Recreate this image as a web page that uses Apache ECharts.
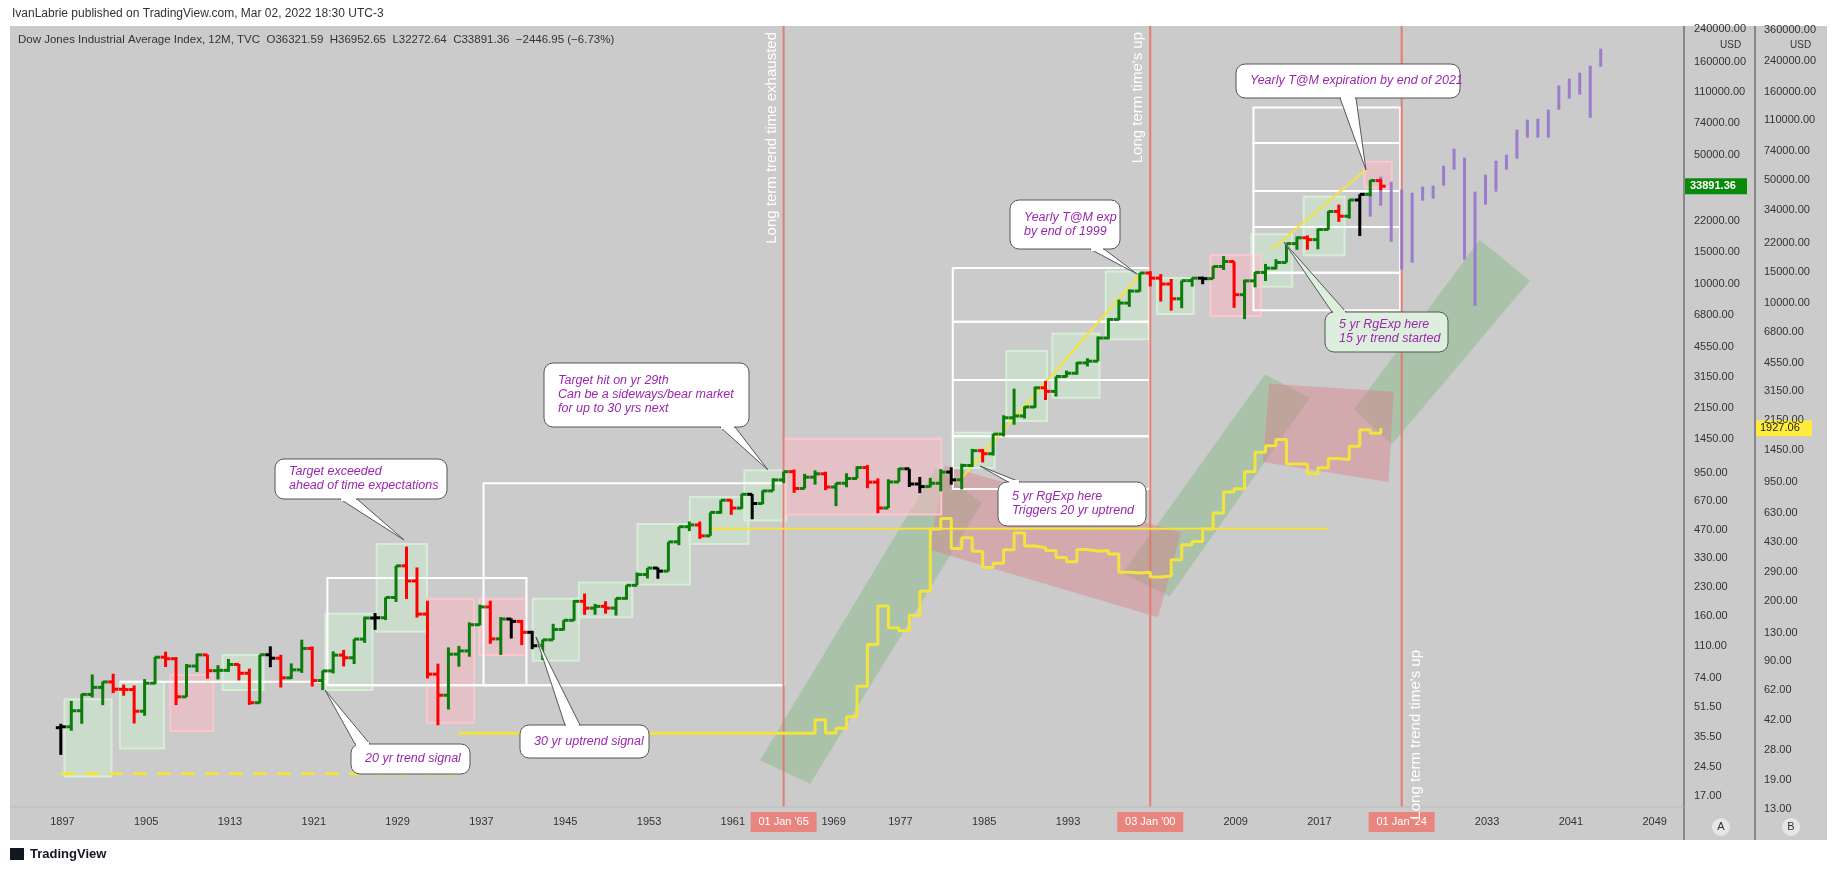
<!DOCTYPE html>
<html><head><meta charset="utf-8">
<script src="https://cdn.jsdelivr.net/npm/echarts@6/dist/echarts.min.js"></script>
<style>
html,body{margin:0;padding:0;background:#fff;width:1834px;height:876px;overflow:hidden;font-family:"Liberation Sans","DejaVu Sans",sans-serif}
#bg{position:absolute;left:10px;top:26px;width:1817px;height:814px;background:#cbcbcb}
#c{position:absolute;left:0;top:0;width:1834px;height:876px}
</style></head><body>
<div id="bg"></div><div id="c"></div>
<script>
// ---------------- DATA ----------------
const startYear = 1896;
const opens = [40.0,40.45,49.41,60.52,66.08,70.71,64.56,64.29,49.11,69.61,96.2,94.35,58.75,86.15,99.05,81.36,81.68,87.87,78.78,54.58,99.15,95,74.38,82.2,107.23,71.95,81.1,98.73,95.52,120.51,156.66,157.2,202.4,300,248.48,164.58,77.9,59.93,99.9,104.04,144.13,179.9,120.85,154.76,150.24,131.13,110.96,119.4,135.89,152.32,192.91,177.2,181.16,177.3,200.13,235.41,269.23,291.9,280.9,404.39,488.4,499.47,435.69,583.65,679.36,615.89,731.14,652.1,762.95,874.13,969.26,785.69,905.11,943.75,800.36,838.92,890.2,1020.02,850.86,616.24,852.41,1004.65,831.17,805.01,838.74,963.99,875,1046.54,1258.64,1211.57,1546.67,1895.95,1938.83,2168.57,2753.2,2633.66,3168.83,3301.11,3754.09,3834.44,5117.12,6448.27,7908.25,9181.43,11497,10787,10021.5,8341.63,10454,10783,10717,12463,13265,8776,10428,11577,12218,13104,16577,17823,17425,19762,24719,23327,28538,30606,36321.59];
const highs = [42,55.8,60.97,77.6,71,78.26,68.44,67.7,73.23,96.56,103,96.37,88.38,100.53,99.3,87.06,94.15,88.57,83.43,99.21,110.15,99.18,89.07,119.62,109.88,81.5,103.43,105.38,120.51,159.39,166.64,202.4,300,381.17,294.07,194.36,88.78,108.67,110.74,148.44,184.9,194.4,158.41,155.92,152.8,133.59,119.71,145.82,152.53,195.82,212.5,186.85,193.16,200.52,235.47,276.37,292,293.79,404.39,488.4,521.05,520.77,583.65,679.36,685.47,734.91,734.5,767.21,891.71,969.26,995.15,943.08,985.21,968.85,842,950.82,1036.27,1051.7,891.66,881.81,1014.79,1004.65,907.74,897.61,1000.17,1024.05,1070.55,1287.2,1286.64,1553.1,1955.57,2722.42,2183.5,2791.41,2999.75,3168.83,3413.21,3794.33,3978.36,5216.47,6560.91,8259.31,9374.27,11497.12,11750,11337,10673,10462,10868,10984,12529,14198,13279,10580,11625,12876,13661,16588,18103,18351,19987,24876,26951,28702,30637,36572,36952.65];
const lows = [28.5,38.5,42,58.3,52.96,61.52,59.57,42.15,46.41,68.76,85.18,53,58.62,79.91,73.62,72.94,80.15,72.11,53.17,54.22,84.96,65.95,73.38,79.15,66.75,63.9,78.59,85.76,88.33,115,135.2,152.73,191.33,198.69,157.51,73.79,41.22,50.16,85.51,96.71,143.11,113.64,98.95,121.44,111.84,106.34,92.92,119.26,134.22,151.35,163.12,163.21,165.39,161.6,196.81,235.41,256.35,255.49,279.87,388.2,462.35,419.79,435.69,574.46,566.05,610.25,535.76,646.79,762.95,840.59,744.32,785.69,825.13,769.93,631.16,797.97,889.15,788.31,577.6,616.24,852.41,800.85,742.12,796.67,759.13,824.01,776.92,1027.04,1086.57,1184.96,1502.29,1738.74,1879.14,2144.64,2365.1,2470.3,3136.58,3241.95,3593.35,3832.08,5032.94,6391.69,7539.07,9120.67,9731,8062,7197,7416,9708,10000,10667,11939,7449,6470,9614,10404,12035,13104,15340,15370,15451,19677,21713,22639,18214,29856,32272.64];
const closes = [40.45,49.41,60.52,66.08,70.71,64.56,64.29,49.11,69.61,96.2,94.35,58.75,86.15,99.05,81.36,81.68,87.87,78.78,54.58,99.15,95,74.38,82.2,107.23,71.95,81.1,98.73,95.52,120.51,156.66,157.2,202.4,300,248.48,164.58,77.9,59.93,99.9,104.04,144.13,179.9,120.85,154.76,150.24,131.13,110.96,119.4,135.89,152.32,192.91,177.2,181.16,177.3,200.13,235.41,269.23,291.9,280.9,404.39,488.4,499.47,435.69,583.65,679.36,615.89,731.14,652.1,762.95,874.13,969.26,785.69,905.11,943.75,800.36,838.92,890.2,1020.02,850.86,616.24,852.41,1004.65,831.17,805.01,838.74,963.99,875,1046.54,1258.64,1211.57,1546.67,1895.95,1938.83,2168.57,2753.2,2633.66,3168.83,3301.11,3754.09,3834.44,5117.12,6448.27,7908.25,9181.43,11497.12,10786.85,10021.5,8341.63,10453.92,10783.01,10717.5,12463.15,13264.82,8776.39,10428.05,11577.51,12217.56,13104.14,16576.66,17823.07,17425.03,19762.6,24719.22,23327.46,28538.44,30606.48,36338.3,33891.36];
const blackYears = [1896,1916,1926,1939,1941,1953,1962,1977,1978,1981,2005,2020];

const goldEarlyYears = [1896,1934];
const goldEarly = [20.67,20.67];
const goldYears = [1934,1968,1969,1970,1971,1972,1973,1974,1975,1976,1977,1978,1979,1980,1981,1982,1983,1984,1985,1986,1987,1988,1989,1990,1991,1992,1993,1994,1995,1996,1997,1998,1999,2000,2001,2002,2003,2004,2005,2006,2007,2008,2009,2010,2011,2012,2013,2014,2015,2016,2017,2018,2019,2020,2021,2022];
const goldValues = [35,41.9,35.2,37.4,43.5,64.9,112.3,186.5,140.3,134.5,164.95,226,512,589.5,397.5,456.9,382.4,309,326.8,390.9,486.5,410.2,401,386.2,353.2,333,391.8,383.3,387,369.3,290.2,287.8,290.3,272.65,276.5,342.75,417.25,435.6,513,632,833.75,869.75,1087.5,1405.5,1531,1664,1204.5,1206,1060,1145.9,1296.5,1279,1523,1887.6,1805.85,1927.06];

const projYears = [2021,2022,2023,2024,2025,2026,2027,2028,2029,2030,2031,2032,2033,2034,2035,2036,2037,2038,2039,2040,2041,2042,2043];
const projHigh = [31250,38130,35870,32470,31250,33710,34120,43740,54060,48350,31670,39100,46550,50170,68480,77590,78400,87900,118600,129300,139200,151800,187700];
const projLow  = [23190,26590,16980,12000,13070,28300,29000,34120,41650,13580,7650,26930,31670,41650,47720,62020,62020,62020,87900,100800,105900,79500,149900];

const timeLineYears = [1965,2000,2024];
const timeLineLabels = ["01 Jan '65","03 Jan '00","01 Jan '24"];

const xTickLabels = [1897,1905,1913,1921,1929,1937,1945,1953,1961,1969,1977,1985,1993,2001,2009,2017,2025,2033,2041,2049];
const ticksA = [240000,160000,110000,74000,50000,22000,15000,10000,6800,4550,3150,2150,1450,950,670,470,330,230,160,110,74,51.5,35.5,24.5,17];
const ticksB = [360000,240000,160000,110000,74000,50000,34000,22000,15000,10000,6800,4550,3150,2150,1450,950,630,430,290,200,130,90,62,42,28,19,13];

// annotation shapes in data space [x1,x2,p1,p2]
const greenBoxes = [[1897.2,1901.7,21.8,57],[1902.5,1906.7,30.9,70.8],[1912.3,1916.2,64,99],[1922.1,1926.6,64,165],[1927,1931.8,132,394],[1941.9,1946.3,92,199],[1946.3,1951.4,158,244],[1951.9,1956.9,237,505],[1956.9,1962.5,394,706],[1962.1,1966.1,528,986],[1982,1986,1015,1572],[1987.1,1991,1820,4350],[1991.5,1996,2430,5420],[1996.6,2000.7,5040,11710],[2001.5,2005,6900,10800],[2010.5,2014.4,9690,18650],[2015.5,2019.4,14350,29730]];
const redBoxes = [[1907.3,1911.4,38.4,77],[1931.8,1936.3,42.5,199],[1936.8,1941.3,99,199],[1965.9,1980.9,568,1462],[2006.6,2011.4,6740,14350],[2021.3,2023.9,33370,45900]];
const whiteBoxes = [[1922.3,1941.3,67.8,258],[1937.2,1965.9,67.8,840],[1982,2000.8,782,1505],[1982,2000.8,1505,3030],[1982,2000.8,3030,6260],[1982,2000.8,6260,12240],[2010.7,2024.7,7240,11540],[2010.7,2024.7,11540,20400],[2010.7,2024.7,20400,31960],[2010.7,2024.7,31960,58100],[2010.7,2024.7,58100,90400]];
const whiteLines = [[1902.5,1922.3,70.8],[1922.3,1965.9,67.8]];
const greenBands = [[[1963.6,26.7],[1968.4,19.9],[1984.8,656],[1980.4,1015]],[[1998.2,274],[2002.7,205],[2016.1,2430],[2011.8,3250]],[[2020.3,2110],[2023.9,1360],[2037.1,10440],[2032.3,17370]]];
const redBands = [[[1981.2,1045],[2003.8,455],[2001.6,158],[1979.8,367]],[[2012.2,2900],[2024.1,2620],[2023.6,853],[2011.6,1092]]];
const yellowSegs = [[[1958.6,476],[2017.8,476]],[[1982.5,850],[2000,11500]],[[2012.5,15500],[2021.5,42000]]];

// ---------------- CHART ----------------
const X_SHIFT = 0.85;
const chart = echarts.init(document.getElementById('c'), null, {renderer:'canvas'});
const years = opens.map((_, i) => startYear + i);
const barData = years.map((y, i) => [y + X_SHIFT, opens[i], highs[i], lows[i], closes[i]]);
const FONT = '"Liberation Sans","DejaVu Sans",sans-serif';

function rectSeries(list, fill, stroke) {
  return {type:'custom', yAxisIndex:0, z:1, silent:true, data:list.map((b,i)=>[i]),
    renderItem:(p, api) => {
      const b = list[api.value(0)];
      const a = api.coord([b[0], b[3]]), c = api.coord([b[1], b[2]]);
      return {type:'rect', shape:{x:a[0], y:a[1], width:c[0]-a[0], height:c[1]-a[1]},
        style:{fill:fill, stroke:stroke, lineWidth:2}};
    }};
}
function polySeries(list, fill) {
  return {type:'custom', z:1, silent:true, data:list.map((b,i)=>[i]),
    renderItem:(p, api) => ({type:'polygon', shape:{points:list[api.value(0)].map(pt=>api.coord(pt))},
      style:{fill:fill}})};
}

chart.setOption({
  animation:false,
  backgroundColor:'transparent',
  grid:{left:10, right:150, top:26, bottom:69, containLabel:false},
  xAxis:{type:'value', min:1892.0, max:2051.8, axisLine:{show:false}, axisTick:{show:false}, axisLabel:{show:false}, splitLine:{show:false}},
  yAxis:[
    {type:'log', min:14.9, max:249000, axisLine:{show:false}, axisTick:{show:false}, axisLabel:{show:false}, splitLine:{show:false}},
    {type:'log', min:13.3, max:380000, axisLine:{show:false}, axisTick:{show:false}, axisLabel:{show:false}, splitLine:{show:false}}
  ],
  series:[
    polySeries(greenBands, 'rgba(130,185,130,0.45)'),
    polySeries(redBands, 'rgba(220,120,130,0.40)'),
    rectSeries(greenBoxes, 'rgba(205,235,205,0.55)', 'rgba(215,240,215,0.9)'),
    rectSeries(redBoxes, 'rgba(250,185,195,0.55)', 'rgba(255,200,205,0.9)'),
    rectSeries(whiteBoxes, 'none', '#ffffff'),
    {type:'custom', z:1, silent:true, data:whiteLines.map((b,i)=>[i]),
     renderItem:(p, api)=>{const b=whiteLines[api.value(0)]; const a=api.coord([b[0],b[2]]), c=api.coord([b[1],b[2]]);
       return {type:'line', shape:{x1:a[0],y1:a[1],x2:c[0],y2:c[1]}, style:{stroke:'#fff', lineWidth:2}};}},
    {type:'custom', z:2, silent:true, data:timeLineYears.map(y=>[y + X_SHIFT]),
     renderItem:(p, api)=>{const x=api.coord([api.value(0), 1000])[0]; const cs=p.coordSys;
       return {type:'line', shape:{x1:x,y1:cs.y,x2:x,y2:cs.y+cs.height}, style:{stroke:'rgba(230,115,105,0.9)', lineWidth:2}};}},
    {type:'line', yAxisIndex:1, z:3, step:'end', symbol:'none', data:goldEarlyYears.map((y,i)=>[y+X_SHIFT, goldEarly[i]]),
     lineStyle:{color:'#f2e43c', width:3, type:[14,10]}},
    {type:'line', yAxisIndex:1, z:3, step:'end', symbol:'none', data:goldYears.map((y,i)=>[y+X_SHIFT, goldValues[i]]),
     lineStyle:{color:'#f2e43c', width:3}},
    ...yellowSegs.map(s=>({type:'line', z:3, symbol:'none', data:s, lineStyle:{color:'#f5e23a', width:2}})),
    {type:'custom', z:4, silent:true, data:projYears.map((y,i)=>[y+X_SHIFT, projHigh[i], projLow[i]]),
     renderItem:(p, api)=>{const a=api.coord([api.value(0), api.value(1)]), b=api.coord([api.value(0), api.value(2)]);
       return {type:'line', shape:{x1:a[0],y1:a[1],x2:b[0],y2:b[1]}, style:{stroke:'rgba(150,115,205,0.9)', lineWidth:3}};}},
    {type:'custom', z:5, silent:true, data:barData,
     renderItem:(p, api)=>{
       const i = p.dataIndex, x = api.value(0);
       const o=api.coord([x,api.value(1)]), h=api.coord([x,api.value(2)]), l=api.coord([x,api.value(3)]), c=api.coord([x,api.value(4)]);
       let col = closes[i] >= opens[i] ? '#0b7d0b' : '#ff0000';
       if (blackYears.includes(years[i])) col = '#000000';
       const w = 5;
       return {type:'group', children:[
         {type:'line', shape:{x1:h[0],y1:h[1],x2:l[0],y2:l[1]}, style:{stroke:col, lineWidth:3}},
         {type:'line', shape:{x1:o[0]-w,y1:o[1],x2:o[0],y2:o[1]}, style:{stroke:col, lineWidth:3}},
         {type:'line', shape:{x1:c[0],y1:c[1],x2:c[0]+w,y2:c[1]}, style:{stroke:col, lineWidth:3}}
       ]};
     }}
  ]
});

// --------- overlay text / axes via library scales ---------
const g = [];
const txt = (x,y,s,opt={}) => g.push({type:'text', x, y, z:50, style:Object.assign({text:s, fill:'#333', font:'11px '+FONT}, opt)});
txt(12, 8, 'IvanLabrie published on TradingView.com, Mar 02, 2022 18:30 UTC-3', {font:'12px '+FONT, fill:'#333'});
txt(18, 34, 'Dow Jones Industrial Average Index, 12M, TVC  O36321.59  H36952.65  L32272.64  C33891.36  \u22122446.95 (\u22126.73%)', {font:'11.5px '+FONT, fill:'#333'});
g.push({type:'line', z:40, shape:{x1:1684,y1:26,x2:1684,y2:840}, style:{stroke:'#444', lineWidth:1}});
g.push({type:'line', z:40, shape:{x1:1755,y1:26,x2:1755,y2:840}, style:{stroke:'#444', lineWidth:1}});
g.push({type:'line', z:40, shape:{x1:10,y1:807,x2:1684,y2:807}, style:{stroke:'#bbb', lineWidth:1}});
ticksA.forEach(v=>{const y=chart.convertToPixel({yAxisIndex:0}, v); if(y>=22&&y<=812) txt(1694, y, v.toFixed(2), {verticalAlign:'middle'});});
ticksB.forEach(v=>{const y=chart.convertToPixel({yAxisIndex:1}, v); if(y>=22&&y<=812) txt(1764, y, v.toFixed(2), {verticalAlign:'middle'});});
txt(1720, 40, 'USD', {font:'10px '+FONT}); txt(1790, 40, 'USD', {font:'10px '+FONT});
const yl = chart.convertToPixel({yAxisIndex:0}, closes[closes.length-1]);
g.push({type:'rect', z:45, shape:{x:1685,y:yl-8,width:62,height:16}, style:{fill:'#0a8a0a'}});
txt(1690, yl, closes[closes.length-1].toFixed(2), {verticalAlign:'middle', fill:'#fff', font:'bold 11px '+FONT});
const yg = chart.convertToPixel({yAxisIndex:1}, goldValues[goldValues.length-1]);
g.push({type:'rect', z:45, shape:{x:1756,y:yg-8,width:56,height:16}, style:{fill:'#ffeb3b'}});
txt(1760, yg, goldValues[goldValues.length-1].toFixed(2), {verticalAlign:'middle', fill:'#222'});
const tagX = timeLineYears.map(yv=>chart.convertToPixel({xAxisIndex:0}, yv+X_SHIFT));
xTickLabels.forEach(yv=>{let x=chart.convertToPixel({xAxisIndex:0}, yv);
  if (tagX.some(t=>Math.abs(t-x)<20)) return;
  tagX.forEach(t=>{ if (x>t && x-t<50) x = t+50; });
  txt(x, 822, String(yv), {align:'center', verticalAlign:'middle'});});
tagX.forEach((x,i)=>{
  g.push({type:'rect', z:45, shape:{x:x-33,y:812,width:66,height:20}, style:{fill:'#e8857e'}});
  txt(x, 822, timeLineLabels[i], {align:'center', verticalAlign:'middle', fill:'#fff'});});
[[1721,'A'],[1791,'B']].forEach(([x,s])=>{g.push({type:'circle', z:45, shape:{cx:x,cy:827,r:9}, style:{fill:'#e6e6e6'}}); txt(x,827,s,{align:'center',verticalAlign:'middle'});});
const vtext = (x, y, s) => g.push({type:'text', z:50, x, y, rotation:Math.PI/2, style:{text:s, fill:'#fff', font:'15px '+FONT, align:'right', verticalAlign:'middle'}});
vtext(tagX[0]-12, 32, 'Long term trend time exhausted');
vtext(tagX[1]-12, 32, "Long term time's up");
vtext(tagX[2]+14, 650, "Long term trend time's up");
function callout(x, y, w, h, lines, tx, ty, bx1, bx2, fill) {
  const by = ty < y ? y : y + h;
  g.push({type:'polygon', z:46, shape:{points:[[bx1,by],[bx2,by],[tx,ty]]}, style:{fill:fill||'#fff', stroke:'#555', lineWidth:1}});
  g.push({type:'rect', z:47, shape:{x,y,width:w,height:h,r:9}, style:{fill:fill||'#fff', stroke:'#555', lineWidth:1}});
  g.push({type:'rect', z:48, shape:{x:Math.min(bx1,bx2)+1,y:by-2,width:Math.abs(bx2-bx1)-2,height:4}, style:{fill:fill||'#fff'}});
  txt(x+14, y+h/2, lines.join('\n'), {verticalAlign:'middle', fill:'#9b27af', font:'italic 12.5px '+FONT, lineHeight:14});
}
callout(275, 459, 172, 40, ['Target exceeded','ahead of time expectations'], 404, 540, 340, 357);
callout(544, 363, 205, 64, ['Target hit on yr 29th','Can be a sideways/bear market','for up to 30 yrs next'], 768, 470, 720, 735);
callout(351, 744, 119, 30, ['20 yr trend signal'], 325, 690, 355, 370);
callout(520, 725, 129, 33, ['30 yr uptrend signal'], 536, 637, 565, 580);
callout(1010, 200, 110, 49, ['Yearly T@M exp','by end of 1999'], 1137, 274, 1090, 1104);
callout(998, 482, 148, 44, ['5 yr RgExp here','Triggers 20 yr uptrend'], 980, 466, 1008, 1020);
callout(1236, 64, 224, 34, ['Yearly T@M expiration by end of 2021'], 1366, 170, 1340, 1356);
callout(1325, 312, 123, 40, ['5 yr RgExp here','15 yr trend started'], 1284, 242, 1332, 1346, '#dcefdc');
g.push({type:'rect', z:45, shape:{x:10,y:848,width:14,height:12}, style:{fill:'#131722'}});
txt(30, 854, 'TradingView', {verticalAlign:'middle', fill:'#131722', font:'bold 13px '+FONT});
chart.setOption({graphic:{elements:g}});
</script>
</body></html>
